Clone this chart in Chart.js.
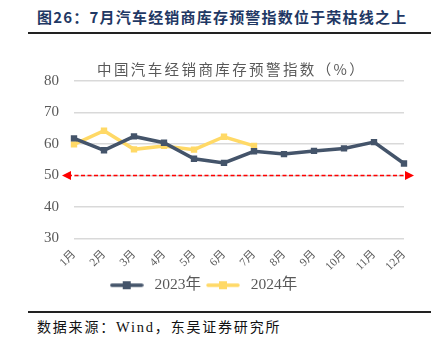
<!DOCTYPE html>
<html>
<head>
<meta charset="utf-8">
<script src="https://cdn.jsdelivr.net/npm/chart.js@4"></script>
<style>
  html, body { margin: 0; padding: 0; background: #fff; }
  body { width: 437px; height: 347px; position: relative; overflow: hidden; }
  #title { position: absolute; left: 37px; top: 6px; font: bold 15px "Noto Sans CJK SC", sans-serif; color: #1f3864; white-space: nowrap; letter-spacing: 1.2px; }
  #topRule { position: absolute; left: 28px; top: 32px; width: 403px; height: 2px; background: #222; }
  #bottomRule { position: absolute; left: 28px; top: 311px; width: 403px; height: 1.5px; background: #222; }
  #source { position: absolute; left: 37px; top: 316px; font: 14px "Noto Sans CJK SC", serif; color: #111; white-space: nowrap; letter-spacing: 1.8px; }
  #chartTitle { position: absolute; left: 97px; top: 58px; font: 14.5px "Noto Sans CJK SC", sans-serif; color: #595959; white-space: nowrap; letter-spacing: 2.4px; }
  #wrap { position: absolute; left: 0; top: 0; width: 437px; height: 303px; }
</style>
</head>
<body>
<div id="title">图26：7月汽车经销商库存预警指数位于荣枯线之上</div>
<div id="topRule"></div>
<div id="wrap"><canvas id="c"></canvas></div>
<div id="chartTitle">中国汽车经销商库存预警指数（%）</div>
<div id="bottomRule"></div>
<div id="source">数据来源：<span style="font-family:'Liberation Serif',serif;font-size:14.5px">Wind</span>，东吴证券研究所</div>
<script>
const months = ['1月','2月','3月','4月','5月','6月','7月','8月','9月','10月','11月','12月'];
const index2023 = [61.8, 58.0, 62.4, 60.4, 55.3, 54.0, 57.7, 56.8, 57.8, 58.6, 60.6, 53.8];
const index2024 = [59.9, 64.2, 58.3, 59.4, 58.2, 62.3, 59.4];
const yTicks = [30, 40, 50, 60, 70, 80];
const boomBustLine = 50;

const navy = '#44546a';
const gold = '#ffd966';

// legend swatch: short line with a square marker in the middle
function swatch(color) {
  const cv = document.createElement('canvas');
  cv.width = 34; cv.height = 10;
  const g = cv.getContext('2d');
  g.strokeStyle = color; g.lineWidth = 3.5; g.lineCap = 'round';
  g.beginPath(); g.moveTo(2, 5); g.lineTo(32, 5); g.stroke();
  g.fillStyle = color; g.fillRect(13, 1, 8, 8);
  return cv;
}

// red dashed 荣枯线 with arrowheads at both ends
const thresholdLine = {
  id: 'thresholdLine',
  afterDatasetsDraw(chart) {
    const { ctx, chartArea, scales } = chart;
    const y = scales.y.getPixelForValue(boomBustLine);
    const x0 = chartArea.left - 12, x1 = chartArea.right + 10;
    ctx.save();
    ctx.strokeStyle = '#ff0000'; ctx.fillStyle = '#ff0000';
    ctx.lineWidth = 1.5; ctx.setLineDash([4, 2.5]);
    ctx.beginPath(); ctx.moveTo(x0 + 6, y); ctx.lineTo(x1 - 6, y); ctx.stroke();
    ctx.setLineDash([]);
    ctx.beginPath(); ctx.moveTo(x0, y); ctx.lineTo(x0 + 9, y - 4.5); ctx.lineTo(x0 + 9, y + 4.5); ctx.closePath(); ctx.fill();
    ctx.beginPath(); ctx.moveTo(x1, y); ctx.lineTo(x1 - 9, y - 4.5); ctx.lineTo(x1 - 9, y + 4.5); ctx.closePath(); ctx.fill();
    ctx.restore();
  }
};

new Chart(document.getElementById('c'), {
  type: 'line',
  data: {
    labels: months,
    datasets: [
      { label: '2023年', data: index2023, borderColor: navy, backgroundColor: navy, borderWidth: 3.5,
        pointStyle: 'rect', pointRadius: 4.5, pointBorderWidth: 0, tension: 0 },
      { label: '2024年', data: index2024, borderColor: gold, backgroundColor: gold, borderWidth: 3.5,
        pointStyle: 'rect', pointRadius: 4.5, pointBorderWidth: 0, tension: 0 }
    ]
  },
  options: {
    responsive: true,
    maintainAspectRatio: false,
    animation: false,
    layout: { padding: { left: 0, right: 33, top: 81, bottom: 0 } },
    plugins: {
      legend: {
        position: 'bottom',
        labels: {
          color: '#595959',
          font: { family: '"Liberation Serif", "Noto Sans CJK SC", serif', size: 15.5 },
          usePointStyle: true,
          pointStyleWidth: 40,
          padding: 2,
          generateLabels(chart) {
            return chart.data.datasets.map((ds, i) => ({
              text: ds.label, pointStyle: swatch(ds.borderColor), fillStyle: ds.borderColor,
              strokeStyle: ds.borderColor, lineWidth: 0, hidden: false, datasetIndex: i, fontColor: '#595959'
            }));
          }
        }
      },
      tooltip: { enabled: false }
    },
    scales: {
      x: {
        grid: { display: false },
        border: { display: false },
        afterFit(axis) { axis.height = 37; },
        ticks: {
          color: '#595959',
          font: { family: '"Liberation Serif", "Noto Sans CJK SC", serif', size: 11.5 },
          maxRotation: 45, minRotation: 45, padding: 1
        }
      },
      y: {
        min: 30, max: 80,
        afterBuildTicks(axis) { axis.ticks = yTicks.map(v => ({ value: v })); },
        afterFit(axis) { axis.width = 74; },
        grid: { color: '#d9d9d9', lineWidth: 1.5, drawTicks: false },
        border: { display: false },
        ticks: {
          color: '#595959',
          font: { family: '"Liberation Serif", serif', size: 15 },
          padding: 15
        }
      }
    }
  },
  plugins: [thresholdLine]
});
</script>
</body>
</html>
